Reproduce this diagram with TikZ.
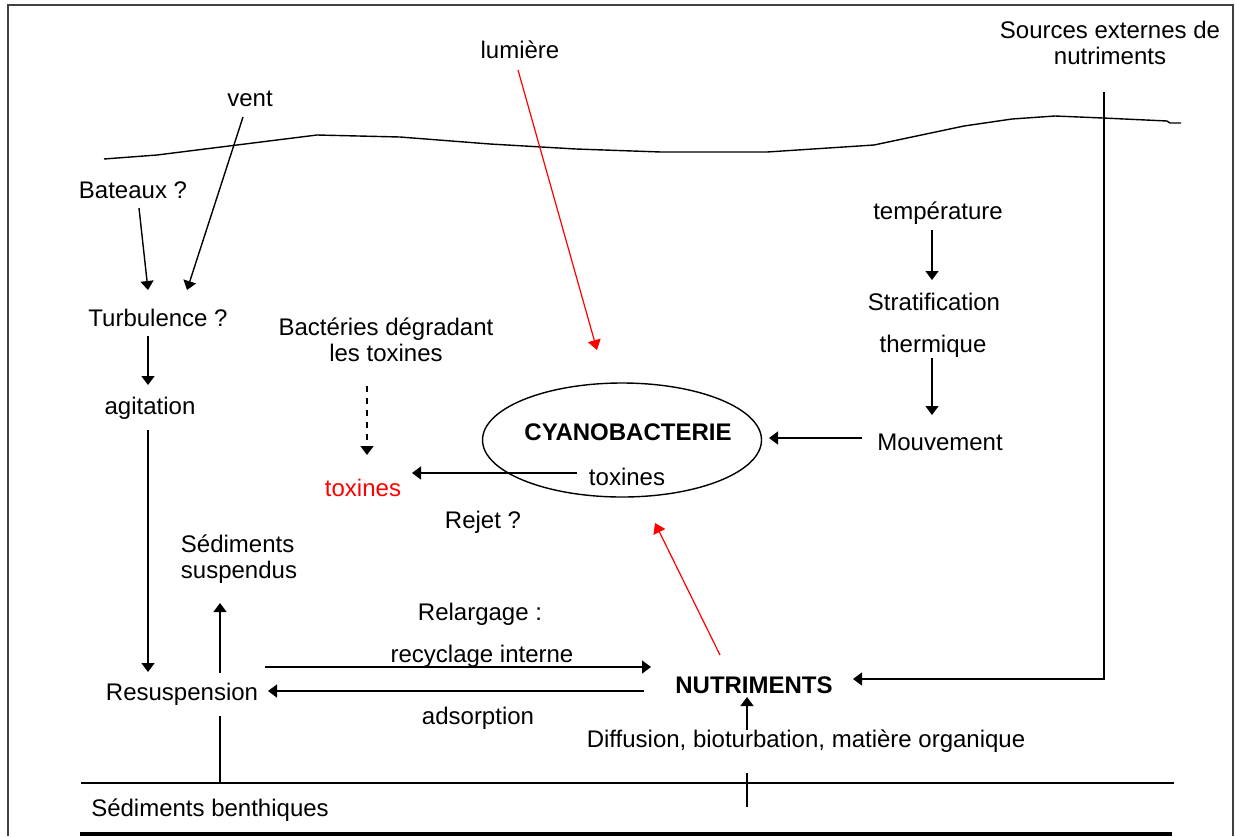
\documentclass[tikz,border=0pt]{standalone}
\usepackage{fontspec}
\setmainfont{Liberation Sans}
\usetikzlibrary{arrows.meta,shapes.geometric}

\begin{document}
\begin{tikzpicture}[x=0.5pt,y=0.5pt,yscale=-1,xscale=1,
  every node/.style={font=\fontsize{12}{13}\selectfont, inner sep=0pt},
  boldtxt/.style={font=\fontsize{12}{14}\selectfont\bfseries},
  arr/.style={line width=0.7pt,-{Triangle[width=6.5pt,length=4.5pt]}},
  redarr/.style={line width=0.6pt,red,-{Triangle[width=6.5pt,length=5pt]}},
  plain/.style={line width=0.7pt}]
\useasboundingbox (0,0) rectangle (1235,836);

%Frame
\draw[black!75,line width=1pt] (8,836) -- (8,5) -- (1233,5) -- (1233,836);

%Water surface
\draw[plain] (104,159) -- (157,155) -- (317,135) -- (400,137) -- (490,144) -- (576,149) -- (661,152) -- (767,152) -- (874,145) -- (964,126) -- (1012,119) -- (1055,116) -- (1103,118) -- (1167,121) -- (1170,123) -- (1181,123);

%Sediment lines
\draw[plain] (81,783) -- (1174,783);
\draw[line width=2pt] (80,834) -- (1172,834);

% Text Node
\node (vent) at (250,99) {vent};
% Text Node
\node (bateaux) at (133,190) {Bateaux ?};
% Text Node
\node (turb) at (158,318) {Turbulence ?};
% Text Node
\node (agit) at (150,408) {agitation};
% Text Node
\node (resusp) at (182,694) {Resuspension};
% Text Node
\node[align=left] (sedsusp) at (239,559) {Sédiments\\suspendus};
% Text Node
\node (sedbenth) at (210,810) {Sédiments benthiques};
% Text Node
\node (lum) at (520,50) {lumière};
% Text Node
\node[align=center] (sources) at (1110,43) {Sources externes de\\nutriments};
% Text Node
\node[align=center] (bact) at (386,340) {Bactéries dégradant\\les toxines};
% Text Node
\node[text=red] (toxext) at (363,488) {toxines};
% Text Node
\node[draw,ellipse,line width=0.7pt,minimum width=139.5pt,minimum height=57pt] (cyano) at (622,440) {};
% Text Node
\node[boldtxt] (cyanolab) at (628,432) {CYANOBACTERIE};
% Text Node
\node (toxint) at (627,477) {toxines};
% Text Node
\node (rejet) at (483,522) {Rejet ?};
% Text Node
\node (temp) at (938,213) {température};
% Text Node
\node (strat) at (934,302) {Stratification};
% Text Node
\node (therm) at (933,346) {thermique};
% Text Node
\node (mouv) at (940,442) {Mouvement};
% Text Node
\node (relarg) at (480,614) {Relargage :};
% Text Node
\node (recyc) at (482,656) {recyclage interne};
% Text Node
\node (adsorp) at (478,718) {adsorption};
% Text Node
\node[boldtxt] (nutri) at (754,685) {NUTRIMENTS};
% Text Node
\node (diff) at (806,741) {Diffusion, bioturbation, matière organique};

%Connector ends
\coordinate (vent-s) at (243,117);
\coordinate (bateaux-s) at (139,208);
\coordinate (turb-n1) at (148,290);
\coordinate (turb-n2) at (187,290);
\coordinate (turb-s) at (148,336);
\coordinate (agit-n) at (148,385);
\coordinate (agit-s) at (148,430);
\coordinate (resusp-n) at (148,672);
\coordinate (resusp-up) at (220,673);
\coordinate (resusp-dn) at (220,716);
\coordinate (resusp-e1) at (265,667);
\coordinate (resusp-e2) at (268,691);
\coordinate (sedsusp-s) at (220,603);
\coordinate (sedbenth-n) at (220,783);
\coordinate (nutri-w1) at (651,667);
\coordinate (nutri-w2) at (644,691);
\coordinate (nutri-e) at (853,679);
\coordinate (nutri-s) at (747,697);
\coordinate (nutri-n) at (720,655);
\coordinate (sources-s) at (1104,92);
\coordinate (sources-c) at (1104,679);
\coordinate (diff-n) at (747,730);
\coordinate (diff-s1) at (747,773);
\coordinate (diff-s2) at (747,807);
\coordinate (lum-s) at (518,70);
\coordinate (cyano-n) at (597,350);
\coordinate (cyano-s) at (655,523);
\coordinate (cyano-e) at (769,438);
\coordinate (mouv-w) at (862,438);
\coordinate (temp-s) at (932,230);
\coordinate (strat-n) at (932,280);
\coordinate (therm-s) at (932,358);
\coordinate (mouv-n) at (932,415);
\coordinate (toxint-w) at (577,473);
\coordinate (toxext-e) at (412,473);
\coordinate (bact-s) at (367,386);
\coordinate (toxext-n) at (367,455);

%Straight Lines
\draw[arr] (bateaux-s) -- (turb-n1);

%Straight Lines
\draw[arr] (vent-s) -- (turb-n2);

%Straight Lines
\draw[arr] (turb-s) -- (agit-n);

%Straight Lines
\draw[arr] (agit-s) -- (resusp-n);

%Straight Lines
\draw[arr] (resusp-up) -- (sedsusp-s);

%Straight Lines
\draw[plain] (resusp-dn) -- (sedbenth-n);

%Straight Lines
\draw[arr] (resusp-e1) -- (nutri-w1);

%Straight Lines
\draw[arr] (nutri-w2) -- (resusp-e2);

%Straight Lines
\draw[arr] (sources-s) -- (sources-c) -- (nutri-e);

%Straight Lines
\draw[arr] (diff-n) -- (nutri-s);

%Straight Lines
\draw[plain] (diff-s1) -- (diff-s2);

%Straight Lines
\draw[redarr] (lum-s) -- (cyano-n);

%Straight Lines
\draw[redarr] (nutri-n) -- (cyano-s);

%Straight Lines
\draw[arr] (temp-s) -- (strat-n);

%Straight Lines
\draw[arr] (therm-s) -- (mouv-n);

%Straight Lines
\draw[arr] (mouv-w) -- (cyano-e);

%Straight Lines
\draw[arr] (toxint-w) -- (toxext-e);

%Straight Lines
\draw[arr,dashed] (bact-s) -- (toxext-n);

\end{tikzpicture}
\end{document}
